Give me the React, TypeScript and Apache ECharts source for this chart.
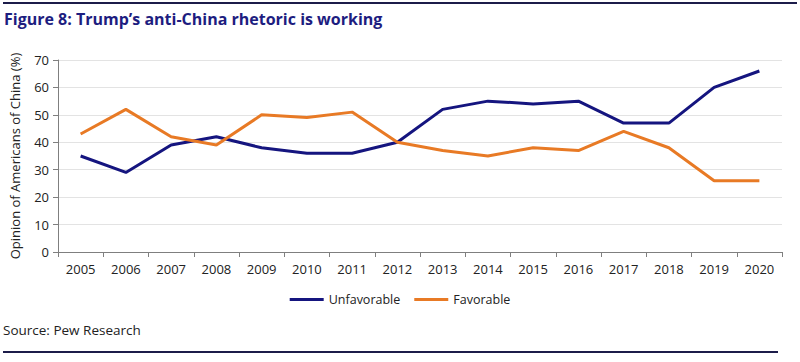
import React, { useEffect, useRef } from "react";
import * as echarts from "echarts";

const years = ["2005","2006","2007","2008","2009","2010","2011","2012","2013","2014","2015","2016","2017","2018","2019","2020"];
const unfavorable = [35, 29, 39, 42, 38, 36, 36, 40, 52, 55, 54, 55, 47, 47, 60, 66];
const favorable = [43, 52, 42, 39, 50, 49, 51, 40, 37, 35, 38, 37, 44, 38, 26, 26];

const NAVY = "#15157f";
const ORANGE = "#e87a25";
const FONT = "'Open Sans', 'Noto Sans', sans-serif";

export default function App() {
  const ref = useRef<HTMLDivElement>(null);
  useEffect(() => {
    if (!ref.current) return;
    const chart = echarts.init(ref.current, null, { renderer: "svg" });
    chart.setOption({
      animation: false,
      backgroundColor: "#ffffff",
      textStyle: { fontFamily: FONT },
      grid: { left: 57, right: 18, top: 60, bottom: 110, containLabel: false },
      legend: {
        top: 288,
        left: "center",
        itemWidth: 34,
        itemHeight: 3,
        itemGap: 14,
        icon: "rect",
        textStyle: { fontFamily: FONT, fontSize: 12.5, color: "#222" },
        data: ["Unfavorable", "Favorable"],
      },
      xAxis: {
        type: "category",
        data: years,
        boundaryGap: true,
        axisLine: { lineStyle: { color: "#7f7f7f", width: 1 } },
        axisTick: { show: true, length: 5, lineStyle: { color: "#7f7f7f" } },
        axisLabel: { fontFamily: FONT, fontSize: 13, color: "#222", margin: 10 },
      },
      yAxis: {
        type: "value",
        min: 0,
        max: 70,
        interval: 10,
        name: "Opinion of Americans of China (%)",
        nameLocation: "middle",
        nameGap: 37,
        nameTextStyle: { fontFamily: FONT, fontSize: 13, color: "#222" },
        axisLine: { show: true, lineStyle: { color: "#7f7f7f", width: 1 } },
        axisTick: { show: true, length: 5, lineStyle: { color: "#7f7f7f" } },
        axisLabel: { fontFamily: FONT, fontSize: 13, color: "#222", margin: 9 },
        splitLine: { lineStyle: { color: "#e3e3e3", width: 1 } },
      },
      series: [
        {
          name: "Unfavorable",
          type: "line",
          data: unfavorable,
          showSymbol: false,
          symbol: "none",
          lineStyle: { color: NAVY, width: 3 },
          itemStyle: { color: NAVY },
        },
        {
          name: "Favorable",
          type: "line",
          data: favorable,
          showSymbol: false,
          symbol: "none",
          lineStyle: { color: ORANGE, width: 3 },
          itemStyle: { color: ORANGE },
        },
      ],
      graphic: [
        {
          type: "line",
          shape: { x1: 3, y1: 3, x2: 797, y2: 3 },
          style: { stroke: "#1c1c4a", lineWidth: 2 },
        },
        {
          type: "text",
          left: 4,
          top: 11,
          style: {
            text: "Figure 8: Trump’s anti-China rhetoric is working",
            fontFamily: FONT,
            fontSize: 16,
            fontWeight: "bold",
            fill: "#1d1d80",
          },
        },
        {
          type: "text",
          left: 3,
          top: 323,
          style: {
            text: "Source: Pew Research",
            fontFamily: FONT,
            fontSize: 13.5,
            fill: "#222",
          },
        },
        {
          type: "line",
          shape: { x1: 3, y1: 352, x2: 778, y2: 352 },
          style: { stroke: "#1c1c4a", lineWidth: 2 },
        },
      ],
    });
    return () => chart.dispose();
  }, []);
  return (
    <div
      ref={ref}
      style={{ position: "fixed", left: 0, top: 0, width: 800, height: 362, background: "#fff" }}
    />
  );
}
